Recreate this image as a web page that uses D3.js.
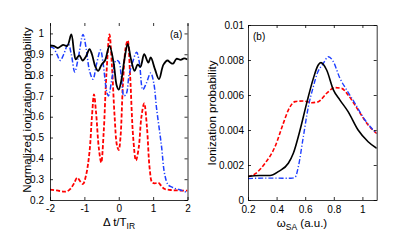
<!DOCTYPE html>
<html>
<head>
<meta charset="utf-8">
<script src="https://d3js.org/d3.v7.min.js"></script>
<style>
body { margin: 0; background: #fff; }
svg { font-family: "Liberation Sans", Arial, sans-serif; }
</style>
</head>
<body>
<div id="chart"></div>
<script>
// Panel (a) data: normalized ionization probability vs delay
var blackAx = [-2, -1.9, -1.77, -1.62, -1.5, -1.38, -1.3, -1.25, -1.15, -1.05, -0.95, -0.85, -0.78, -0.68, -0.6, -0.5, -0.4, -0.27, -0.15, -0.06, 0, 0.07, 0.17, 0.26, 0.35, 0.46, 0.55, 0.63, 0.74, 0.86, 0.93, 1.05, 1.17, 1.3, 1.42, 1.5, 1.58, 1.68, 1.8, 1.9, 2];
var blackAy = [0.942, 0.94, 0.93, 0.945, 0.94, 0.995, 0.91, 0.875, 0.895, 0.87, 0.89, 0.925, 0.9, 0.84, 0.82, 0.85, 0.87, 0.94, 0.86, 0.75, 0.73, 0.77, 0.88, 0.95, 0.88, 0.82, 0.85, 0.84, 0.9, 0.86, 0.885, 0.83, 0.78, 0.85, 0.87, 0.86, 0.855, 0.878, 0.873, 0.88, 0.875];

var blueAx = [-2, -1.9, -1.8, -1.7, -1.6, -1.47, -1.38, -1.28, -1.18, -1.04, -0.95, -0.85, -0.75, -0.65, -0.53, -0.45, -0.35, -0.3, -0.18, -0.08, 0, 0.07, 0.15, 0.22, 0.3, 0.4, 0.52, 0.6, 0.7, 0.8, 0.93, 1.02, 1.1, 1.24, 1.34, 1.44, 1.55, 1.62, 1.75, 1.85, 1.97, 2];
var blueAy = [0.935, 0.93, 0.9, 0.87, 0.9, 0.95, 0.9, 0.815, 0.88, 0.995, 0.93, 0.82, 0.78, 0.85, 0.92, 0.85, 0.72, 0.7, 0.8, 0.87, 0.865, 0.8, 0.7, 0.71, 0.8, 0.86, 0.91, 0.86, 0.73, 0.76, 0.81, 0.76, 0.64, 0.464, 0.32, 0.272, 0.262, 0.256, 0.25, 0.245, 0.237, 0.235];

var redAx = [-2, -1.8, -1.6, -1.5, -1.4, -1.3, -1.21, -1.12, -1.04, -0.95, -0.85, -0.78, -0.72, -0.66, -0.58, -0.51, -0.44, -0.36, -0.27, -0.2, -0.12, -0.05, 0, 0.05, 0.12, 0.2, 0.26, 0.33, 0.42, 0.5, 0.58, 0.66, 0.74, 0.82, 0.9, 0.97, 1.05, 1.15, 1.25, 1.34, 1.5, 1.7, 2];
var redAy = [0.25, 0.246, 0.24, 0.242, 0.255, 0.28, 0.307, 0.29, 0.277, 0.32, 0.432, 0.6, 0.707, 0.62, 0.45, 0.38, 0.52, 0.8, 0.995, 0.85, 0.6, 0.46, 0.44, 0.5, 0.75, 0.93, 0.966, 0.8, 0.5, 0.39, 0.45, 0.6, 0.664, 0.55, 0.35, 0.285, 0.28, 0.283, 0.265, 0.253, 0.248, 0.246, 0.245];

var ticksAx = [-2, -1, 0, 1, 2];
var ticksAy = [0.2, 0.3, 0.4, 0.5, 0.6, 0.7, 0.8, 0.9, 1];

// Panel (b) data: ionization probability vs omega_SA
var blackBx = [0.2, 0.28, 0.354, 0.412, 0.482, 0.517, 0.564, 0.61, 0.657, 0.69, 0.71, 0.75, 0.797, 0.843, 0.9, 0.97, 1.04, 1.1];
var blackBy = [0.00135, 0.0014, 0.0014, 0.00162, 0.0021, 0.00267, 0.004, 0.00552, 0.00695, 0.0077, 0.00785, 0.00743, 0.00629, 0.00571, 0.00505, 0.004, 0.00333, 0.00295];

var blueBx = [0.2, 0.3, 0.4, 0.5, 0.53, 0.552, 0.587, 0.622, 0.657, 0.68, 0.727, 0.762, 0.797, 0.843, 0.89, 0.948, 1.018, 1.1];
var blueBy = [0.00122, 0.00125, 0.00125, 0.00124, 0.0013, 0.0019, 0.00362, 0.00533, 0.00648, 0.00714, 0.00781, 0.00819, 0.0079, 0.00695, 0.00629, 0.00552, 0.00457, 0.0038];

var redBx = [0.2, 0.249, 0.319, 0.389, 0.447, 0.482, 0.529, 0.587, 0.645, 0.692, 0.75, 0.808, 0.855, 0.9, 0.97, 1.04, 1.1];
var redBy = [0.00133, 0.00149, 0.0021, 0.00305, 0.00438, 0.00514, 0.00562, 0.00566, 0.00556, 0.00562, 0.0061, 0.00642, 0.00638, 0.006, 0.00514, 0.00429, 0.0038];

var ticksBx = [0.2, 0.4, 0.6, 0.8, 1];
var ticksBy = [0, 0.002, 0.004, 0.006, 0.008, 0.01];

var svg = d3.select("#chart").append("svg")
  .attr("width", 395)
  .attr("height", 241);

var zip = function(xs, ys) {
  return xs.map(function(x, i) { return [x, ys[i]]; });
};

// draws one panel; topLine = whether the frame gets a top edge
var drawPanel = function(p) {
  var x = d3.scaleLinear().domain(p.xDomain).range([p.left, p.right]);
  var y = d3.scaleLinear().domain(p.yDomain).range([p.bottom, p.top]);
  var g = svg.append("g");

  var clipId = "clip" + p.name;
  g.append("clipPath").attr("id", clipId).append("rect")
    .attr("x", p.left).attr("y", p.top)
    .attr("width", p.right - p.left).attr("height", p.bottom - p.top);

  var line = d3.line()
    .x(function(d) { return x(d[0]); })
    .y(function(d) { return y(d[1]); })
    .curve(p.curve);

  p.series.forEach(function(s) {
    g.append("path")
      .attr("clip-path", "url(#" + clipId + ")")
      .attr("d", line(zip(s.xs, s.ys)))
      .attr("fill", "none")
      .attr("stroke", s.color)
      .attr("stroke-width", s.width)
      .attr("stroke-dasharray", s.dash);
  });

  var bottomAxis = d3.axisBottom(x).tickValues(p.xTicks).tickSizeInner(-3).tickSizeOuter(0).tickPadding(p.xPad).tickFormat(p.xFormat);
  var leftAxis = d3.axisLeft(y).tickValues(p.yTicks).tickSizeInner(-3).tickSizeOuter(0).tickPadding(p.yPad).tickFormat(p.yFormat);
  var topAxis = d3.axisTop(x).tickValues(p.xTicks).tickSizeInner(-3).tickSizeOuter(0).tickFormat("");
  var rightAxis = d3.axisRight(y).tickValues(p.yTicks).tickSizeInner(-3).tickSizeOuter(0).tickFormat("");

  var ax = [
    g.append("g").attr("transform", "translate(0," + p.bottom + ")").call(bottomAxis),
    g.append("g").attr("transform", "translate(" + p.left + ",0)").call(leftAxis),
    g.append("g").attr("transform", "translate(0," + p.top + ")").call(topAxis),
    g.append("g").attr("transform", "translate(" + p.right + ",0)").call(rightAxis)
  ];
  if (!p.topLine) ax[2].select(".domain").remove();
  ax.forEach(function(a) {
    a.selectAll("text").attr("font-size", 10).attr("fill", "#000")
      .attr("font-family", "Liberation Sans, Arial, sans-serif");
    a.selectAll("line").attr("stroke", "#000").attr("stroke-width", 0.8);
    a.select(".domain").attr("stroke", "#000").attr("stroke-width", 0.8);
  });

  g.append("text")
    .attr("x", p.tagX).attr("y", p.top + 15)
    .attr("font-size", 10)
    .text(p.tag);

  return g;
};

var panelA = drawPanel({
  name: "a", left: 50, right: 187.5, top: 23, bottom: 200,
  xDomain: [-2, 2], yDomain: [0.2, 1.05],
  xTicks: ticksAx, yTicks: ticksAy,
  xFormat: function(d) { return d; }, yFormat: function(d) { return d; },
  xPad: 5, yPad: 6, topLine: false, tag: "(a)", tagX: 170,
  curve: d3.curveCatmullRom.alpha(0.5),
  series: [
    {xs: redAx, ys: redAy, color: "#ff0000", width: 1.8, dash: "4,2"},
    {xs: blueAx, ys: blueAy, color: "#1f3fff", width: 1.5, dash: "5,2,1.2,2"},
    {xs: blackAx, ys: blackAy, color: "#000", width: 1.8, dash: null}
  ]
});

var panelB = drawPanel({
  name: "b", left: 248, right: 376.7, top: 25, bottom: 200,
  xDomain: [0.2, 1.1], yDomain: [0, 0.01],
  xTicks: ticksBx, yTicks: ticksBy,
  xFormat: function(d) { return d; }, yFormat: function(d) { return d; },
  xPad: 6, yPad: 4, topLine: true, tag: "(b)", tagX: 253,
  curve: d3.curveMonotoneX,
  series: [
    {xs: redBx, ys: redBy, color: "#ff0000", width: 1.6, dash: "4,2"},
    {xs: blueBx, ys: blueBy, color: "#1f3fff", width: 1.4, dash: "5,2,1.2,2"},
    {xs: blackBx, ys: blackBy, color: "#000", width: 1.6, dash: null}
  ]
});

// axis titles
svg.append("text")
  .attr("transform", "translate(31,110) rotate(-90)")
  .attr("text-anchor", "middle").attr("font-size", 11.5)
  .text("Normalized ionization probability");

svg.append("text")
  .attr("transform", "translate(216,113) rotate(-90)")
  .attr("text-anchor", "middle").attr("font-size", 11.5)
  .text("Ionization probability");

var xa = svg.append("text")
  .attr("x", 119).attr("y", 226)
  .attr("text-anchor", "middle").attr("font-size", 11.5);
xa.append("tspan").text("\u0394 t/T");
xa.append("tspan").attr("dy", 3).attr("font-size", 8.5).text("IR");

var xb = svg.append("text")
  .attr("x", 302).attr("y", 227)
  .attr("text-anchor", "middle").attr("font-size", 11.5);
xb.append("tspan").text("\u03c9");
xb.append("tspan").attr("dy", 3).attr("font-size", 8.5).text("SA");
xb.append("tspan").attr("dy", -3).text(" (a.u.)");
</script>
</body>
</html>
